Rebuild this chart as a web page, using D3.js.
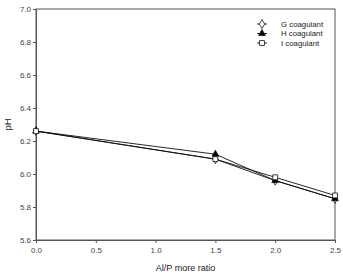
<!DOCTYPE html>
<html>
<head>
<meta charset="utf-8">
<script src="https://cdn.jsdelivr.net/npm/d3@7"></script>
<style>
  body { margin: 0; background: #fff; }
  svg { font-family: "Liberation Sans", Arial, sans-serif; }
</style>
</head>
<body>
<svg id="chart" width="343" height="273"></svg>
<script>
// data
const ratios = [0, 1.5, 2.0, 2.5];
const gValues = [6.26, 6.09, 5.96, 5.85];
const hValues = [6.26, 6.12, 5.96, 5.85];
const iValues = [6.26, 6.09, 5.98, 5.87];
const seriesNames = ["G coagulant", "H coagulant", "I coagulant"];
const xTicks = [0, 0.5, 1.0, 1.5, 2.0, 2.5];
const yTicks = [5.6, 5.8, 6.0, 6.2, 6.4, 6.6, 6.8, 7.0];

const series = [
  { name: seriesNames[0], values: gValues, symbol: d3.symbolDiamond, fill: "#fff", size: 24 },
  { name: seriesNames[1], values: hValues, symbol: d3.symbolTriangle, fill: "#000", size: 20 },
  { name: seriesNames[2], values: iValues, symbol: d3.symbolSquare, fill: "#fff", size: 24 }
];

const margin = { left: 36, right: 8, top: 9, bottom: 33 };
const svg = d3.select("#chart");
const W = 343, H = 273;
const w = W - margin.left - margin.right;
const h = H - margin.top - margin.bottom;

const x = d3.scaleLinear().domain([0, 2.5]).range([0, w]);
const y = d3.scaleLinear().domain([5.6, 7.0]).range([h, 0]);

const g = svg.append("g").attr("transform", `translate(${margin.left},${margin.top})`);

// frame (top and right)
g.append("rect").attr("x", 0).attr("y", 0).attr("width", w).attr("height", h)
  .attr("fill", "none").attr("stroke", "#555").attr("stroke-width", 1);

const fmt = d3.format(".1f");
const xAxis = g.append("g").attr("transform", `translate(0,${h})`)
  .call(d3.axisBottom(x).tickValues(xTicks).tickFormat(fmt).tickSize(3).tickPadding(4));
const yAxis = g.append("g")
  .call(d3.axisLeft(y).tickValues(yTicks).tickFormat(fmt).tickSize(3).tickPadding(2));

[xAxis, yAxis].forEach(a => {
  a.select(".domain").attr("stroke", "#555");
  a.selectAll(".tick line").attr("stroke", "#555");
  a.selectAll("text").attr("font-size", 8).attr("fill", "#444")
    .attr("font-family", "Liberation Sans, Arial, sans-serif");
});

const line = d3.line().x((d, i) => x(ratios[i])).y(d => y(d));

series.forEach(s => {
  g.append("path").datum(s.values)
    .attr("d", line).attr("fill", "none")
    .attr("stroke", "#111").attr("stroke-width", 0.9);
});

series.forEach(s => {
  g.selectAll(null).data(s.values).join("path")
    .attr("transform", (d, i) => `translate(${x(ratios[i])},${y(d)})`)
    .attr("d", d3.symbol().type(s.symbol).size(s.size))
    .attr("fill", s.fill).attr("stroke", "#111").attr("stroke-width", 0.8);
});

// legend
const legend = g.append("g").attr("transform", `translate(${257 - margin.left},${24 - margin.top})`);
series.forEach((s, i) => {
  const row = legend.append("g").attr("transform", `translate(0,${i * 9.5})`);
  row.append("line").attr("x1", 0).attr("x2", 10).attr("stroke", "#111").attr("stroke-width", 0.9);
  row.append("path").attr("transform", "translate(5,0)")
    .attr("d", d3.symbol().type(s.symbol).size(s.size))
    .attr("fill", s.fill).attr("stroke", "#111").attr("stroke-width", 0.8);
  row.append("text").attr("x", 24).attr("y", 2.8)
    .attr("font-size", 7.8).attr("fill", "#222").text(s.name);
});

// axis titles
svg.append("text").attr("transform", `translate(11,${margin.top + h / 2}) rotate(-90)`)
  .attr("text-anchor", "middle").attr("font-size", 9.5).attr("fill", "#222").text("pH");
svg.append("text").attr("x", margin.left + w / 2).attr("y", 270.5)
  .attr("text-anchor", "middle").attr("font-size", 9).attr("fill", "#222").text("Al/P more ratio");
</script>
</body>
</html>
